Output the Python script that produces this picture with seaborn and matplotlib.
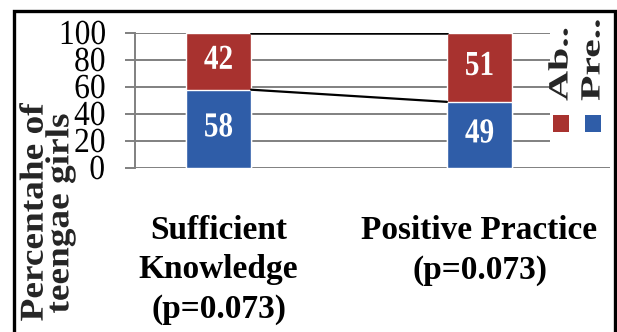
import matplotlib
matplotlib.use("Agg")
import matplotlib.pyplot as plt
from matplotlib.patches import Rectangle
from matplotlib.patheffects import AbstractPathEffect
from matplotlib.transforms import Affine2D
import pandas as pd
import seaborn as sns

# Data
categories = ["Sufficient\nKnowledge\n(p=0.073)", "Positive Practice\n(p=0.073)"]
present = [58, 49]
absent = [42, 51]
series_labels = ["Ab..", "Pre.."]
y_ticks = [0, 20, 40, 60, 80, 100]

RED = "#A8322F"
BLUE = "#2F5DA8"
GRID = "#808080"


class Stretch(AbstractPathEffect):
    """Scale glyph outlines in their own text coordinates (tall, narrow type)."""

    def __init__(self, sx=1.0, sy=1.0):
        super().__init__()
        self.sx = sx
        self.sy = sy

    def draw_path(self, renderer, gc, tpath, affine, rgbFace=None):
        renderer.draw_path(gc, tpath, Affine2D().scale(self.sx, self.sy) + affine, rgbFace)


sns.set_theme(style="white")
plt.rcParams["font.family"] = ["Liberation Serif", "DejaVu Serif"]

df = pd.DataFrame({"category": categories, "present": present, "absent": absent})
df["total"] = df["present"] + df["absent"]

fig = plt.figure(figsize=(6.17, 3.32), dpi=100)
ax = fig.add_axes([135 / 617, 1 - 168 / 332, (610 - 135) / 617, (168 - 33) / 332])

bar_w = 0.25
# stacked bars: full height in red, present share in blue on top of it
sns.barplot(data=df, x="category", y="total", color=RED, width=bar_w,
            saturation=1, ax=ax, zorder=3)
sns.barplot(data=df, x="category", y="present", color=BLUE, width=bar_w,
            saturation=1, ax=ax, zorder=3)

ax.set_xlim(-0.32, 1.5)
ax.set_ylim(0, 100)
ax.set_yticks(y_ticks)
ax.set_xlabel("")
ax.set_ylabel("")

for v in y_ticks:
    ax.axhline(v, color=GRID, lw=1.4, zorder=1)

for s in ["top", "right", "bottom"]:
    ax.spines[s].set_visible(False)
ax.spines["left"].set_color(GRID)
ax.spines["left"].set_linewidth(1.4)

ax.tick_params(axis="y", which="both", left=True, length=7, width=1.4,
               color=GRID, labelsize=22, pad=15, labelcolor="black")
ax.tick_params(axis="x", length=0, pad=34)
ax.set_yticklabels([str(v) for v in y_ticks])
for t in ax.get_yticklabels():
    t.set_path_effects([Stretch(1.03, 1.15)])
ax.set_xticks(range(len(categories)))
ax.set_xticklabels(categories, fontsize=24, fontweight="bold",
                   linespacing=1.34, color="black")

# value labels inside the segments
for i, (p, a) in enumerate(zip(present, absent)):
    for val, yc in [(p, p / 2), (a, p + a / 2)]:
        ax.text(i, yc, str(val), ha="center", va="center", color="white",
                fontsize=21, fontweight="bold", zorder=5,
                path_effects=[Stretch(1.0, 1.2)])

# series lines between the stacked bars
x_left = 0 + bar_w / 2
x_right = 1 - bar_w / 2
ax.plot([x_left, x_right], [present[0], present[1]], color="black", lw=1.6, zorder=4)
ax.plot([x_left, x_right], [present[0] + absent[0], present[1] + absent[1]],
        color="black", lw=1.8, zorder=4)


def fx(px):
    return px / 617


def fy(py):
    return 1 - py / 332


# legend with vertical entries on the right
fig.patches.append(Rectangle((fx(550), fy(145)), fx(610) - fx(550), fy(25) - fy(145),
                             transform=fig.transFigure, facecolor="white",
                             edgecolor="none", zorder=10))
leg_colors = [RED, BLUE]
leg_x = [561, 593]
for lbl, c, cx in zip(series_labels, leg_colors, leg_x):
    fig.patches.append(Rectangle((fx(cx - 8), fy(132)), fx(16), 17 / 332,
                                 transform=fig.transFigure, facecolor=c,
                                 edgecolor="none", zorder=11))
    fig.text(fx(cx), fy(101), lbl, rotation=90, ha="center", va="bottom",
             fontsize=20, fontweight="bold", zorder=12,
             path_effects=[Stretch(1.5, 1.0)])

# y-axis title
fig.text(fx(47), fy(224), "Percentahe of\nteengae girls", rotation=90,
         ha="center", va="center", multialignment="center",
         fontsize=24, fontweight="bold", linespacing=0.78,
         path_effects=[Stretch(1.12, 1.0)])

# outer frame
fig.patches.append(Rectangle((fx(14), -0.1), fx(615) - fx(14), fy(11) + 0.1,
                             transform=fig.transFigure, facecolor="none",
                             edgecolor="black", lw=2.4, zorder=20))

fig.savefig("out.png", dpi=100)
